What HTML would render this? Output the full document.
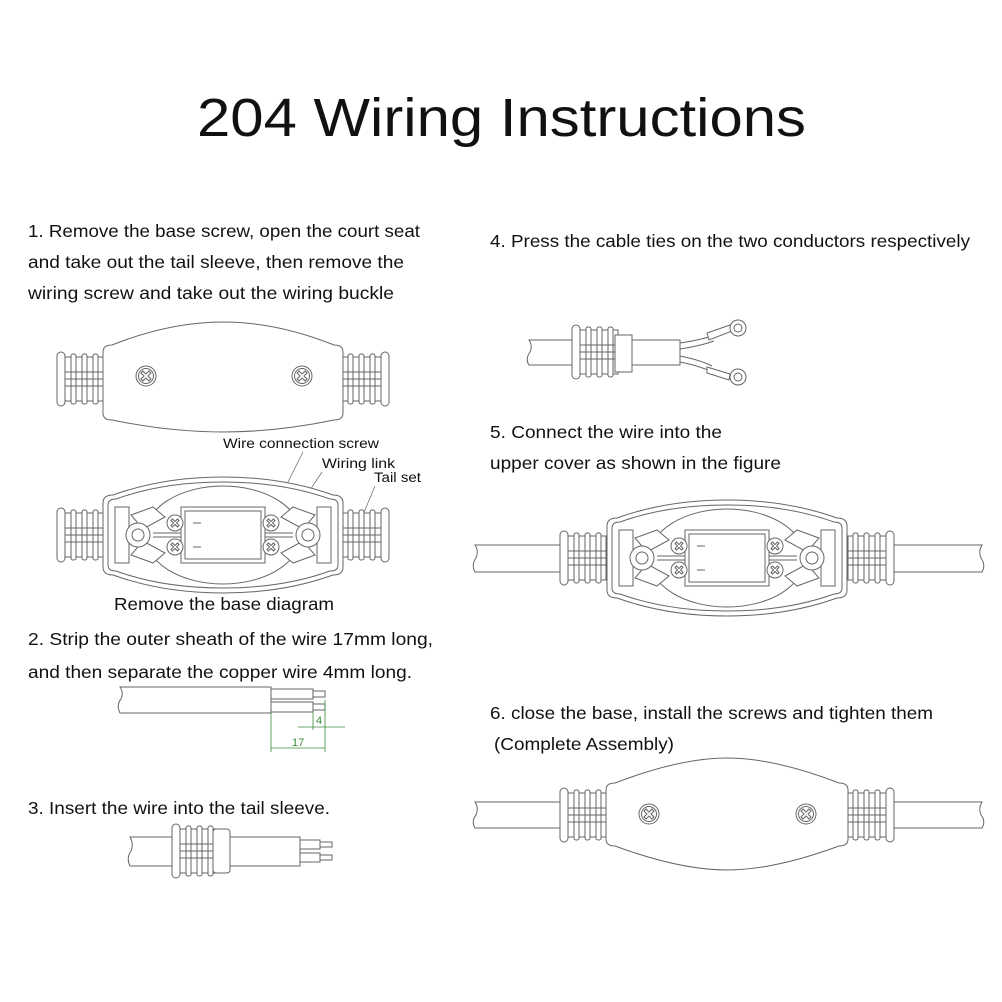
<!DOCTYPE html>
<html><head><meta charset="utf-8"><style>
html,body{margin:0;padding:0;background:#fff}
svg{display:block}
text{font-family:"Liberation Sans",sans-serif;fill:#111}
</style></head><body>
<svg width="1002" height="1002" viewBox="0 0 1002 1002" xmlns="http://www.w3.org/2000/svg">
<defs>
 <g id="conn" fill="#fff" stroke="#666" stroke-width="1">
  <rect x="0" y="-27" width="8" height="54" rx="4"/>
  <rect x="8" y="-22" width="38" height="44"/>
  <rect x="14" y="-25" width="5" height="50" rx="2"/>
  <rect x="25" y="-25" width="5" height="50" rx="2"/>
  <rect x="36" y="-25" width="5" height="50" rx="2"/>
  <line x1="8" y1="-7" x2="46" y2="-7"/>
  <line x1="8" y1="7" x2="46" y2="7"/>
  <line x1="8" y1="0" x2="46" y2="0"/>
 </g>
 <g id="screw" fill="#fff" stroke="#666" stroke-width="1">
  <circle r="10"/><circle r="7.5"/>
  <path d="M-5,-3 L-3,-5 L0,-2 L3,-5 L5,-3 L2,0 L5,3 L3,5 L0,2 L-3,5 L-5,3 L-2,0 Z"/>
 </g>
 <g id="sscrew" fill="#fff" stroke="#666" stroke-width="1">
  <circle r="8"/>
  <path d="M-4,-2.5 L-2.5,-4 L0,-1.5 L2.5,-4 L4,-2.5 L1.5,0 L4,2.5 L2.5,4 L0,1.5 L-2.5,4 L-4,2.5 L-1.5,0 Z"/>
 </g>
 <g id="open" fill="none" stroke="#666" stroke-width="1">
  <path d="M-120,-32 Q-120,-40 -110,-40 Q-60,-58 0,-58 Q60,-58 110,-40 Q120,-40 120,-32 L120,32 Q120,40 110,40 Q60,58 0,58 Q-60,58 -110,40 Q-120,40 -120,32 Z" fill="#fff"/>
  <path d="M-115,-30 Q-115,-36 -107,-36 Q-60,-53 0,-53 Q60,-53 107,-36 Q115,-36 115,-30 L115,30 Q115,36 107,36 Q60,53 0,53 Q-60,53 -107,36 Q-115,36 -115,30 Z"/>
  <ellipse cx="0" cy="0" rx="78" ry="49"/>
  <rect x="-108" y="-28" width="14" height="56"/>
  <rect x="94" y="-28" width="14" height="56"/>
  <rect x="-42" y="-28" width="84" height="56" fill="#fff"/>
  <rect x="-38" y="-24" width="76" height="48"/>
  <line x1="-70" y1="-2" x2="-42" y2="-2"/><line x1="-70" y1="2" x2="-42" y2="2"/>
  <line x1="42" y1="-2" x2="70" y2="-2"/><line x1="42" y1="2" x2="70" y2="2"/>
  <path d="M-92,-20 L-70,-28 L-58,-18 L-80,-6 Z M-92,20 L-70,28 L-58,18 L-80,6 Z" fill="#fff"/>
  <path d="M92,-20 L70,-28 L58,-18 L80,-6 Z M92,20 L70,28 L58,18 L80,6 Z" fill="#fff"/>
  <circle cx="-85" cy="0" r="12" fill="#fff"/><circle cx="-85" cy="0" r="6"/>
  <circle cx="85" cy="0" r="12" fill="#fff"/><circle cx="85" cy="0" r="6"/>
  <line x1="-30" y1="-12" x2="-22" y2="-12"/><line x1="-30" y1="12" x2="-22" y2="12"/>
  <use href="#sscrew" x="-48" y="-12"/><use href="#sscrew" x="-48" y="12"/>
  <use href="#sscrew" x="48" y="-12"/><use href="#sscrew" x="48" y="12"/>
 </g>
</defs>

<text x="197" y="136" font-size="54" textLength="609" lengthAdjust="spacingAndGlyphs">204 Wiring Instructions</text>

<g font-size="17.5">
<text x="28" y="237" textLength="392" lengthAdjust="spacingAndGlyphs">1. Remove the base screw, open the court seat</text>
<text x="28" y="268" textLength="376" lengthAdjust="spacingAndGlyphs">and take out the tail sleeve, then remove the</text>
<text x="28" y="299" textLength="366" lengthAdjust="spacingAndGlyphs">wiring screw and take out the wiring buckle</text>
<text x="490" y="247" textLength="480" lengthAdjust="spacingAndGlyphs">4. Press the cable ties on the two conductors respectively</text>
<text x="490" y="438" textLength="232" lengthAdjust="spacingAndGlyphs">5. Connect the wire into the</text>
<text x="490" y="469" textLength="291" lengthAdjust="spacingAndGlyphs">upper cover as shown in the figure</text>
<text x="114" y="610" textLength="220" lengthAdjust="spacingAndGlyphs">Remove the base diagram</text>
<text x="28" y="645" textLength="405" lengthAdjust="spacingAndGlyphs">2. Strip the outer sheath of the wire 17mm long,</text>
<text x="28" y="678" textLength="384" lengthAdjust="spacingAndGlyphs">and then separate the copper wire 4mm long.</text>
<text x="490" y="719" textLength="443" lengthAdjust="spacingAndGlyphs">6. close the base, install the screws and tighten them</text>
<text x="494" y="750" textLength="180" lengthAdjust="spacingAndGlyphs">(Complete Assembly)</text>
<text x="28" y="814" textLength="302" lengthAdjust="spacingAndGlyphs">3. Insert the wire into the tail sleeve.</text>
</g>
<g font-size="14">
<text x="223" y="448" textLength="156" lengthAdjust="spacingAndGlyphs">Wire connection screw</text>
<text x="322" y="468" textLength="73" lengthAdjust="spacingAndGlyphs">Wiring link</text>
<text x="374" y="482" textLength="47" lengthAdjust="spacingAndGlyphs">Tail set</text>
</g>
<g stroke="#777" fill="none" stroke-width="0.8">
<path d="M303,452 L270,518"/><path d="M322,472 L298,508"/><path d="M375,486 L360,522"/>
</g>

<!-- Diagram 1 closed -->
<use href="#conn" x="57" y="379"/>
<g transform="translate(389,379) scale(-1,1)"><use href="#conn" x="0" y="0"/></g>
<path d="M103,352 Q103,345 112,345 Q170,322 223,322 Q276,322 334,345 Q343,345 343,352 L343,413 Q343,420 334,420 Q276,432 223,432 Q170,432 112,420 Q103,420 103,413 Z" fill="#fff" stroke="#666"/>
<use href="#screw" x="146" y="376"/><use href="#screw" x="302" y="376"/>

<!-- Diagram 1 open -->
<use href="#conn" x="57" y="535"/>
<g transform="translate(389,535) scale(-1,1)"><use href="#conn" x="0" y="0"/></g>
<use href="#open" x="223" y="535"/>

<!-- Step 4 -->
<g fill="#fff" stroke="#666">
<path d="M529,340 L680,340 L680,365 L529,365 Q525,359 530,352 Q533,346 529,340 Z"/>
<use href="#conn" x="572" y="352"/>
<rect x="615" y="335" width="17" height="37"/>
<path d="M680,343 Q700,340 712,336 M680,349 Q700,346 714,341" fill="none"/>
<path d="M680,356 Q700,360 712,366 M680,362 Q700,366 712,372" fill="none"/>
<path d="M707,333 L730,325 L732,331 L709,340 Z"/>
<path d="M707,367 L730,374 L729,380 L707,373 Z"/>
<circle cx="738" cy="328" r="8"/><circle cx="738" cy="328" r="4"/>
<circle cx="738" cy="377" r="8"/><circle cx="738" cy="377" r="4"/>
</g>

<!-- Step 2 -->
<g fill="#fff" stroke="#666">
<path d="M120,687 L271,687 L271,713 L120,713 Q116,705 121,699 Q124,693 120,687 Z"/>
<rect x="271" y="689" width="42" height="10"/><rect x="313" y="691" width="12" height="6"/>
<rect x="271" y="702" width="42" height="10"/><rect x="313" y="704" width="12" height="6"/>
</g>
<g stroke="#3a8a3a" fill="none" stroke-width="0.8">
<line x1="271" y1="713" x2="271" y2="752"/><line x1="325" y1="700" x2="325" y2="752"/>
<line x1="313" y1="712" x2="313" y2="730"/>
<line x1="271" y1="748" x2="325" y2="748"/>
<line x1="298" y1="727" x2="345" y2="727"/>
</g>
<g font-family="Liberation Serif" font-size="11">
<text x="316" y="724" style="fill:#3a8a3a">4</text><text x="292" y="746" style="fill:#3a8a3a">17</text>
</g>

<!-- Step 3 -->
<g fill="#fff" stroke="#666">
<path d="M130,837 L300,837 L300,866 L130,866 Q126,858 131,851 Q134,844 130,837 Z"/>
<rect x="300" y="840" width="20" height="9"/><rect x="320" y="842" width="12" height="5"/>
<rect x="300" y="853" width="20" height="9"/><rect x="320" y="855" width="12" height="5"/>
<use href="#conn" x="172" y="851"/>
<rect x="213" y="829" width="17" height="44" rx="3"/>
</g>

<!-- Step 5 -->
<g fill="#fff" stroke="#666">
<path d="M475,545 L562,545 L562,572 L475,572 Q471,565 476,558 Q479,551 475,545 Z"/>
<path d="M982,545 L892,545 L892,572 L982,572 Q986,565 981,558 Q978,551 982,545 Z"/>
</g>
<use href="#conn" x="560" y="558"/>
<g transform="translate(894,558) scale(-1,1)"><use href="#conn" x="0" y="0"/></g>
<use href="#open" x="727" y="558"/>

<!-- Step 6 -->
<g fill="#fff" stroke="#666">
<path d="M475,802 L562,802 L562,828 L475,828 Q471,821 476,815 Q479,808 475,802 Z"/>
<path d="M982,802 L892,802 L892,828 L982,828 Q986,821 981,815 Q978,808 982,802 Z"/>
</g>
<use href="#conn" x="560" y="815"/>
<g transform="translate(894,815) scale(-1,1)"><use href="#conn" x="0" y="0"/></g>
<path d="M606,790 Q606,783 615,783 Q680,758 727,758 Q774,758 839,783 Q848,783 848,790 L848,839 Q848,846 839,846 Q774,870 727,870 Q680,870 615,846 Q606,846 606,839 Z" fill="#fff" stroke="#666"/>
<use href="#screw" x="649" y="814"/><use href="#screw" x="806" y="814"/>
</svg>
</body></html>
